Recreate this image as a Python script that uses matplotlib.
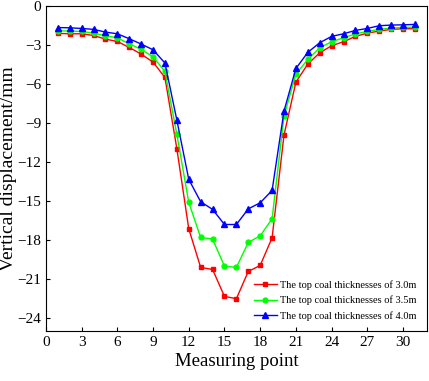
import numpy as np
import matplotlib.pyplot as plt

plt.rcParams['font.family'] = ['Liberation Serif', 'DejaVu Serif']

# measuring points
points = list(range(1, 32))

# vertical displacement (mm) for each top coal thickness
disp_30 = [-2.10, -2.13, -2.13, -2.26, -2.54, -2.72, -3.18, -3.69, -4.31, -5.49,
           -10.97, -17.13, -20.10, -20.26, -22.33, -22.51, -20.41, -19.95, -17.82, -9.92,
           -5.85, -4.46, -3.59, -3.05, -2.74, -2.33, -2.08, -1.92, -1.79, -1.74, -1.74]
disp_35 = [-1.90, -1.92, -1.95, -2.08, -2.28, -2.44, -2.90, -3.33, -3.90, -5.03,
           -9.87, -15.10, -17.80, -17.92, -20.00, -20.10, -18.18, -17.67, -16.36, -8.46,
           -5.23, -4.10, -3.21, -2.74, -2.44, -2.13, -1.95, -1.79, -1.69, -1.64, -1.62]
disp_40 = [-1.65, -1.67, -1.72, -1.79, -2.00, -2.13, -2.51, -2.92, -3.36, -4.38,
           -8.77, -13.33, -15.05, -15.64, -16.80, -16.80, -15.60, -15.13, -14.18, -8.08,
           -4.80, -3.56, -2.82, -2.33, -2.13, -1.87, -1.72, -1.51, -1.46, -1.44, -1.41]

labels = ['The top coal thicknesses of 3.0m',
          'The top coal thicknesses of 3.5m',
          'The top coal thicknesses of 4.0m']

fig = plt.figure(figsize=(4.29, 3.81), dpi=100)
ax = fig.add_axes([0.107, 0.131, 0.888, 0.853])

ax.plot(points, disp_30, color='#ff0000', marker='s', markersize=3.5, lw=1.0, label=labels[0])
ax.plot(points, disp_35, color='#00ff00', marker='o', markersize=3.5, lw=1.0, label=labels[1])
ax.plot(points, disp_40, color='#0000ff', marker='^', markersize=4, lw=1.0, label=labels[2])

ax.set_xlim(0, 32)
ax.set_ylim(-25, 0)
ax.set_xticks(np.arange(0, 31, 3))
ax.set_yticks(np.arange(-24, 1, 3))
ax.tick_params(direction='in', labelsize=11, length=3)
ax.set_xlabel('Measuring point', fontsize=13.5, labelpad=3)
ax.set_ylabel('Vertical displacement/mm', fontsize=14)
ax.yaxis.set_label_coords(-0.075, 0.5)

ax.legend(loc='lower right', bbox_to_anchor=(1.0, 0.0), frameon=False, fontsize=7.5,
          handlelength=2.2, handletextpad=0.3, labelspacing=0.55, borderaxespad=0.6)

plt.savefig('out.png', dpi=100)
